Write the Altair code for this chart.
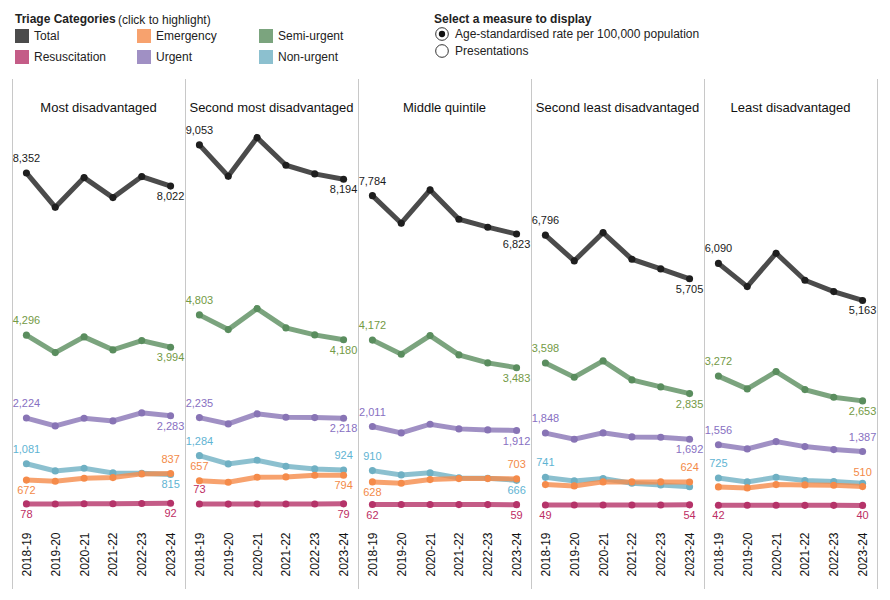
import altair as alt
import pandas as pd

years = ["2018-19", "2019-20", "2020-21", "2021-22", "2022-23", "2023-24"]
quintiles = [
    "Most disadvantaged",
    "Second most disadvantaged",
    "Middle quintile",
    "Second least disadvantaged",
    "Least disadvantaged",
]
categories = ["Total", "Emergency", "Semi-urgent", "Resuscitation", "Urgent", "Non-urgent"]

# Age-standardised rate per 100,000 population, one row per quintile
total = [
    [8352, 7495, 8235, 7735, 8260, 8022],
    [9053, 8270, 9235, 8545, 8328, 8194],
    [7784, 7095, 7928, 7195, 6995, 6823],
    [6796, 6153, 6860, 6195, 5953, 5705],
    [6090, 5510, 6345, 5670, 5385, 5163],
]
semi_urgent = [
    [4296, 3860, 4253, 3928, 4160, 3994],
    [4803, 4435, 4960, 4478, 4303, 4180],
    [4172, 3820, 4285, 3803, 3603, 3483],
    [3598, 3245, 3653, 3178, 3003, 2835],
    [3272, 2953, 3385, 2935, 2745, 2653],
]
urgent = [
    [2224, 2028, 2220, 2153, 2353, 2283],
    [2235, 2078, 2328, 2245, 2235, 2218],
    [2011, 1853, 2070, 1953, 1928, 1912],
    [1848, 1695, 1853, 1753, 1745, 1692],
    [1556, 1453, 1635, 1510, 1435, 1387],
]
non_urgent = [
    [1081, 903, 970, 853, 845, 815],
    [1284, 1078, 1170, 1020, 953, 924],
    [910, 803, 853, 728, 720, 666],
    [741, 653, 710, 595, 553, 505],
    [725, 628, 745, 660, 635, 595],
]
emergency = [
    [672, 645, 720, 735, 828, 837],
    [657, 620, 745, 753, 795, 794],
    [628, 595, 685, 710, 710, 703],
    [560, 528, 628, 628, 628, 624],
    [503, 478, 560, 553, 545, 510],
]
resuscitation = [
    [78, 77, 80, 81, 87, 92],
    [73, 72, 74, 75, 77, 79],
    [62, 61, 61, 60, 60, 59],
    [49, 49, 50, 51, 52, 54],
    [42, 42, 42, 41, 41, 40],
]

series = {
    "Total": total,
    "Emergency": emergency,
    "Semi-urgent": semi_urgent,
    "Resuscitation": resuscitation,
    "Urgent": urgent,
    "Non-urgent": non_urgent,
}

# drawing order (back to front)
draw_order = ["Total", "Semi-urgent", "Urgent", "Non-urgent", "Emergency", "Resuscitation"]

line_colors = ["#1e1e1e", "#f58b4a", "#5a8d5e", "#b53369", "#8874b5", "#6fb0c3"]
text_colors = ["#1a1a1a", "#f38a48", "#739a45", "#bd2d63", "#8770c2", "#5fb4d3"]

# where the first / last value labels sit relative to their point
default_place = {
    "Total": ("above", "below"),
    "Semi-urgent": ("above", "below"),
    "Urgent": ("above", "below"),
    "Non-urgent": ("above", "below"),
    "Emergency": ("below", "above"),
    "Resuscitation": ("below", "below"),
}
place_override = {
    (1, "Non-urgent"): ("above", "above"),
    (1, "Emergency"): ("above", "below"),
    (1, "Resuscitation"): ("above", "below"),
    (3, "Non-urgent"): ("above", None),
    (3, "Emergency"): (None, "above"),
    (4, "Urgent"): ("above", "above"),
    (4, "Non-urgent"): ("above", None),
    (4, "Emergency"): (None, "above"),
}

rows, label_rows = [], []
for qi, q in enumerate(quintiles):
    for cat in draw_order:
        vals = series[cat][qi]
        for yi, yr in enumerate(years):
            rows.append({"quintile": q, "cat": cat, "year": yr, "value": vals[yi]})
        first, last = place_override.get((qi, cat), default_place[cat])
        for idx, pos in ((0, first), (len(years) - 1, last)):
            if pos:
                label_rows.append({"quintile": q, "cat": cat, "year": years[idx],
                                   "value": vals[idx], "pos": pos})

df = pd.DataFrame(rows)
labels = pd.DataFrame(label_rows)

W, H = 173, 386
YMAX = 9650
FONT = "Liberation Sans"

x_enc = alt.X("year:O", sort=years, scale=alt.Scale(type="point", padding=0.5),
              axis=alt.Axis(title=None, labelAngle=270, domain=False, ticks=False,
                            grid=False, labelPadding=25, labelFontSize=12,
                            labelColor="#111", labelFont=FONT))
y_enc = alt.Y("value:Q", scale=alt.Scale(domain=[0, YMAX], nice=False, zero=False),
              axis=None)
x_plain = alt.X("year:O", sort=years)
y_plain = alt.Y("value:Q")

color_scale = alt.Scale(domain=categories, range=line_colors)
text_scale = alt.Scale(domain=categories, range=text_colors)

legend = alt.Legend(
    orient="none", legendX=3, legendY=-107, columns=3, direction="horizontal",
    symbolType="square", symbolSize=196, symbolOpacity=0.8, symbolStrokeWidth=0,
    labelFontSize=12, labelColor="#222", labelFont=FONT, labelOffset=5,
    title="Triage Categories", titleFontSize=12, titleFontWeight="bold",
    titleColor="#222", titleFont=FONT, titlePadding=3,
    rowPadding=7, columnPadding=30, gridAlign="all",
)


def text_item(s, x, y, bold=False, size=12, align="left", color="#222"):
    return alt.Chart(pd.DataFrame({"t": [s]})).mark_text(
        font=FONT, fontSize=size, fontWeight="bold" if bold else "normal",
        color=color, align=align, baseline="middle",
    ).encode(text="t:N", x=alt.value(x), y=alt.value(y))


def radio(x, y, selected):
    one = alt.Chart(pd.DataFrame({"t": [0]}))
    out = [one.mark_point(shape="circle", size=160, filled=False, color="#333",
                          strokeWidth=1, opacity=1).encode(x=alt.value(x), y=alt.value(y))]
    if selected:
        out.append(one.mark_point(shape="circle", size=40, filled=True, color="#111",
                                  opacity=1).encode(x=alt.value(x), y=alt.value(y)))
    return out


def panel(qi, q):
    data = df[df["quintile"] == q]
    lab = labels[labels["quintile"] == q]
    base = alt.Chart(data)
    lines = base.mark_line(strokeWidth=5, opacity=0.8).encode(
        x=x_enc, y=y_enc,
        stroke=alt.Stroke("cat:N", scale=color_scale, legend=None),
        detail="cat:N",
    )
    points = base.mark_circle(size=50, opacity=1).encode(
        x=x_plain, y=y_plain,
        color=alt.Color("cat:N", scale=color_scale,
                        legend=legend if qi == 0 else None),
    )
    lab_base = alt.Chart(lab)
    above = lab_base.transform_filter(alt.datum.pos == "above").mark_text(
        fontSize=11, font=FONT, dy=-14, baseline="middle").encode(
        x=x_plain, y=y_plain,
        text=alt.Text("value:Q", format=","),
        fill=alt.Fill("cat:N", scale=text_scale, legend=None),
    )
    below = lab_base.transform_filter(alt.datum.pos == "below").mark_text(
        fontSize=11, font=FONT, dy=11, baseline="middle").encode(
        x=x_plain, y=y_plain,
        text=alt.Text("value:Q", format=","),
        fill=alt.Fill("cat:N", scale=text_scale, legend=None),
    )
    sep_data = alt.Chart(pd.DataFrame({"s": [0]}))
    sep = sep_data.mark_rule(color="#c8c8c8", strokeWidth=1).encode(
        x=alt.value(0.5), y=alt.value(-42), y2=alt.value(468))
    heading = text_item(q, W / 2, -13, size=13, align="center", color="#111")
    layers = [sep, heading, lines, points, above, below]
    if qi == len(quintiles) - 1:
        layers.append(sep_data.mark_rule(color="#c8c8c8", strokeWidth=1).encode(
            x=alt.value(W + 0.5), y=alt.value(-42), y2=alt.value(468)))
    if qi == 0:
        layers.append(text_item("(click to highlight)", 106, -101))
        layers.append(text_item("Select a measure to display", 422, -102, bold=True))
        layers.append(text_item("Age-standardised rate per 100,000 population", 443, -87))
        layers.append(text_item("Presentations", 443, -70))
        layers += radio(430, -87, True)
        layers += radio(430, -70, False)
    return alt.layer(*layers).properties(width=W, height=H)


chart = alt.hconcat(*[panel(i, q) for i, q in enumerate(quintiles)],
                    spacing=0, bounds="flush").resolve_legend(
    color="independent"
).properties(
    padding={"left": 12, "right": 12, "top": 13, "bottom": 10}
).configure(font=FONT).configure_view(strokeWidth=0, stroke="transparent")

chart.save("out.html", embed_options={"renderer": "svg", "actions": False})
